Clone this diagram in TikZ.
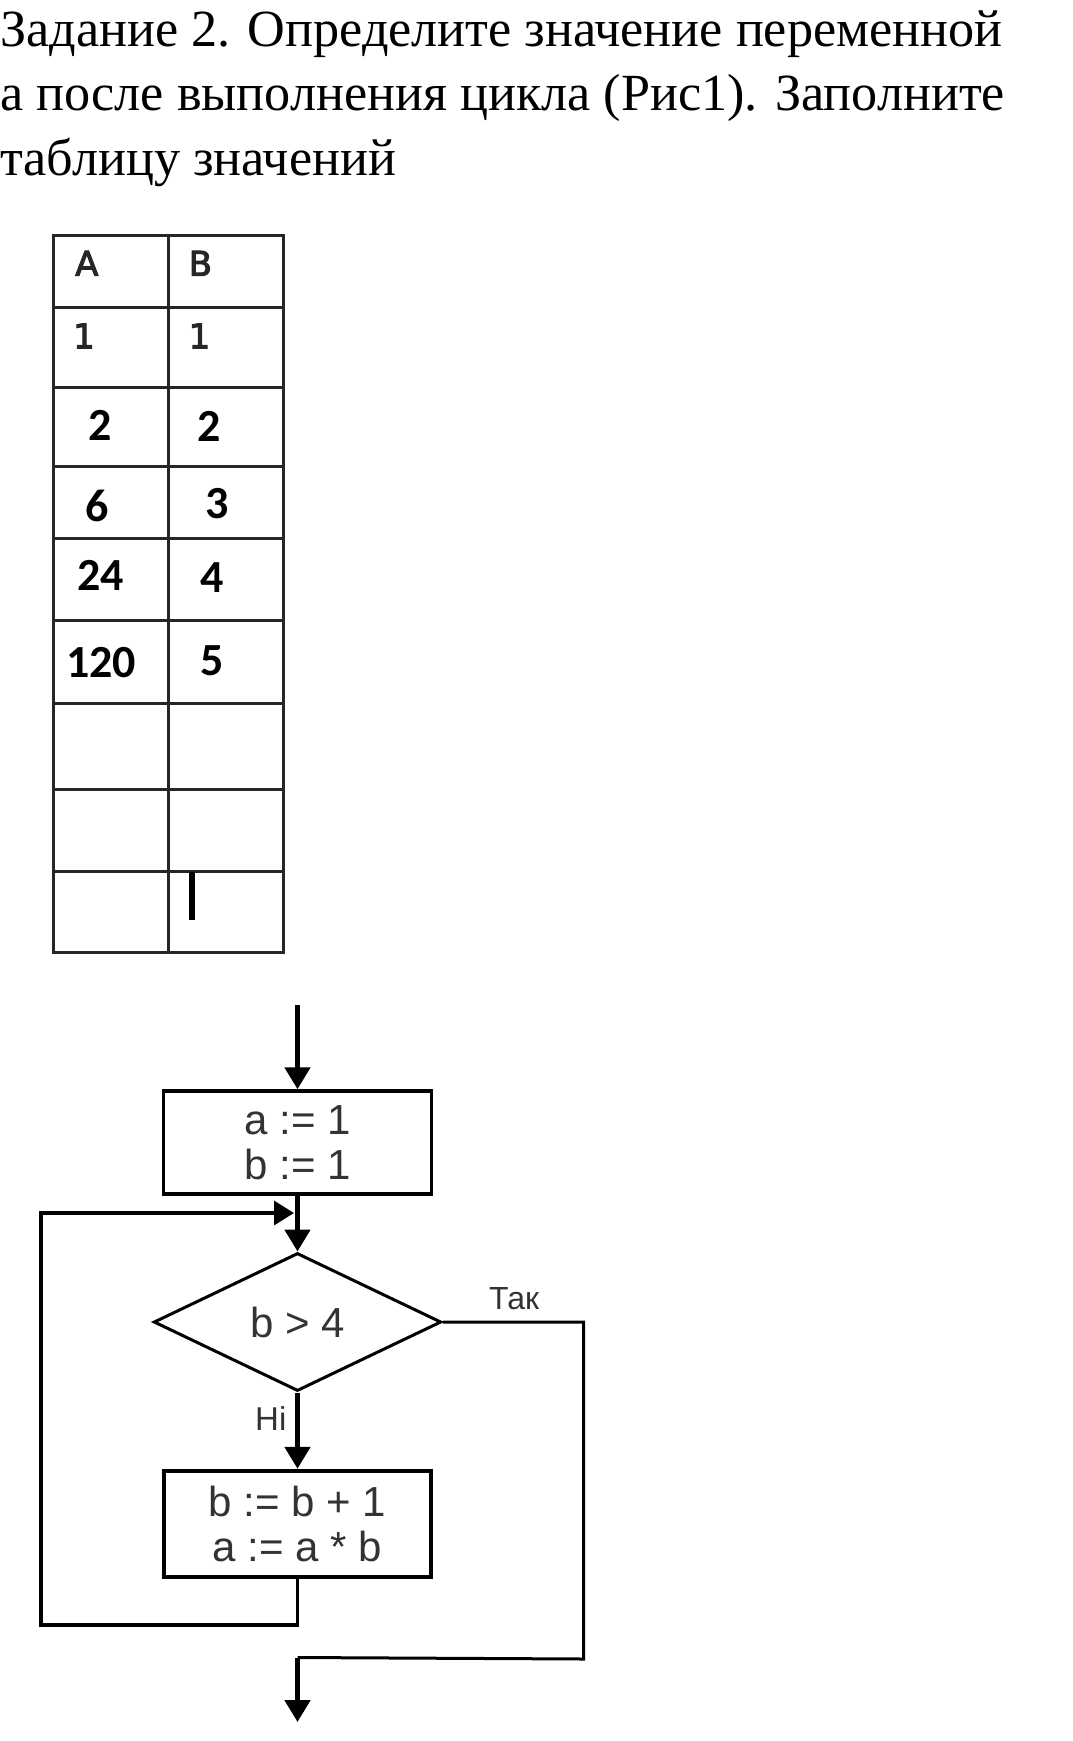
\documentclass[tikz,border=0pt]{standalone}
\usepackage{fontspec}
\setmainfont{Liberation Serif}
\newfontfamily\flowfont{Liberation Sans}
\newfontfamily\tabfont[FakeBold=3]{DejaVu Sans}
\newfontfamily\valfont{Carlito}
\usetikzlibrary{shapes.geometric,arrows.meta}
\newcommand{\fsz}[2]{\fontsize{#1pt}{#2pt}\selectfont}
\begin{document}
\begin{tikzpicture}[x=1pt,y=-1pt,
  titletext/.style={anchor=base west,inner sep=0pt,font=\fsz{52.2}{64}},
  hdr/.style={anchor=base west,inner sep=0pt,font=\tabfont\fsz{34}{40},text=black!85},
  val/.style={anchor=base west,inner sep=0pt,font=\valfont\bfseries\fsz{46}{50}},
  gridline/.style={line width=3pt,black!85},
  flowbox/.style={draw,rectangle,inner sep=0pt,align=center,font=\flowfont\fsz{42}{45},text=black!80},
  flowlabel/.style={anchor=base west,inner sep=0pt,font=\flowfont\fsz{32}{36},text=black!80},
  mainline/.style={line width=5pt,-{Triangle[length=22pt,width=25pt]}},
  thinline/.style={line width=3pt},
  loopline/.style={line width=3.5pt,-{Triangle[length=20pt,width=24pt]}}
]
\useasboundingbox (0,0) rectangle (1072,1741);
% title
\node[titletext] (t1) at (0,46.7) {Задание 2. Определите значение переменной};
\node[titletext] (t2) at (0,110) {а после выполнения цикла (Рис1). Заполните};
\node[titletext] (t3) at (0,175) {таблицу значений};
% table
\draw[gridline] (53,235.5) rectangle (283,952.5);
\draw[gridline] (168.5,235.5) -- (168.5,952.5);
\foreach \yy in {307,387,466,538.5,620,703,789,871} \draw[gridline] (53,\yy) -- (283,\yy);
\node[hdr] (hA) at (75,275.7) {A};
\node[hdr] (hB) at (188.5,275.7) {B};
\node[hdr] (a1) at (73,348.3) {1};
\node[hdr] (b1v) at (188.5,348.3) {1};
\node[val] (a2) at (88,440) {2};
\node[val] (b2v) at (197,441) {2};
\node[val] (a3) at (85,521) {6};
\node[val] (b3v) at (205,518) {3};
\node[val] (a4) at (77,590) {24};
\node[val] (b4v) at (200,592) {4};
\node[val] (a5) at (66,677) {120};
\node[val] (b5v) at (200,675) {5};
\node[fill=black,minimum width=6pt,minimum height=48pt,inner sep=0pt] (cursor) at (192,896) {};
% flowchart
\coordinate (start) at (297.5,1005);
\node[flowbox,line width=3.5pt,minimum width=268pt,minimum height=103pt] (box1) at (297.5,1142.5) {a := 1\\b := 1};
\node[diamond,draw,line width=3pt,aspect=2,inner sep=0pt,minimum width=287.5pt,minimum height=138pt,font=\flowfont\fsz{42}{45},text=black!80] (cond) at (297.5,1322) {b > 4};
\node[flowbox,line width=4.5pt,minimum width=267pt,minimum height=106pt] (box2) at (297.5,1524) {b := b + 1\\a := a * b};
\coordinate (loopend) at (294,1213);
\coordinate (loopcorner) at (41,1625);
\coordinate (rightcorner) at (583.5,1659);
\coordinate (joinpt) at (297.5,1657.5);
\coordinate (finish) at (297.5,1722);
\draw[mainline] (start) -- (box1.north);
\draw[mainline] (box1.south) -- (cond.north);
\draw[mainline] (cond.south) -- (box2.north);
\draw[loopline] (box2.south) |- (loopcorner) |- (loopend);
\draw[thinline] (cond.east) -| (rightcorner) -- (joinpt);
\draw[mainline] (joinpt) -- (finish);
\node[flowlabel] (yes) at (489,1309) {Так};
\node[flowlabel,font=\flowfont\fsz{33}{36}] (no) at (255,1430) {Ні};
\end{tikzpicture}
\end{document}
